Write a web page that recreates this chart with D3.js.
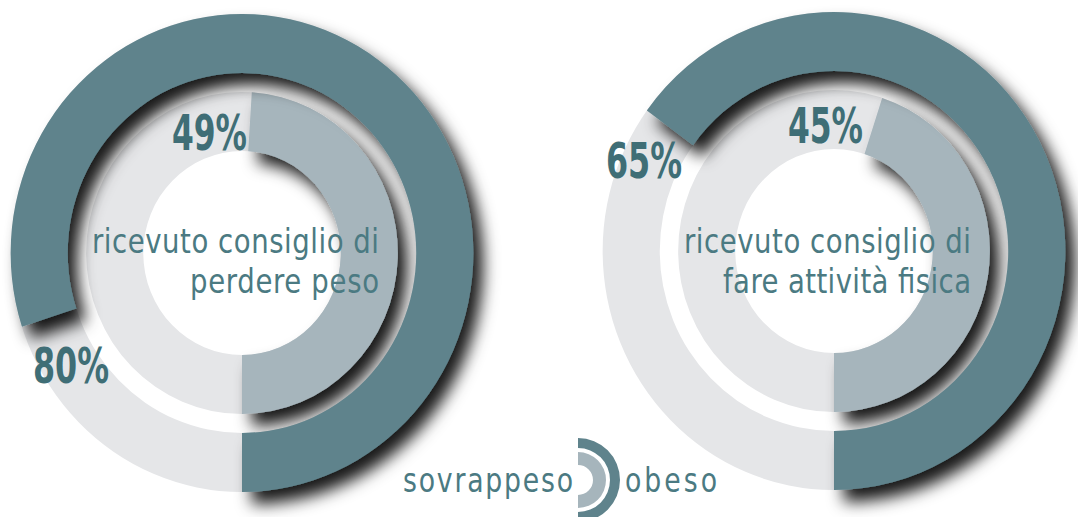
<!DOCTYPE html>
<html>
<head>
<meta charset="utf-8">
<script src="https://cdn.jsdelivr.net/npm/d3@7"></script>
<style>
  body { margin: 0; background: #fff; }
  text { font-family: "Liberation Sans Narrow", "DejaVu Sans Condensed", "Roboto", sans-serif; }
</style>
</head>
<body>
<div id="graph"></div>
<script>
var w = 1078
var h = 517

// data
var captions = [["ricevuto consiglio di", "perdere peso"], ["ricevuto consiglio di", "fare attività fisica"]]
var seriesNames = ["sovrappeso", "obeso"]
var sovrappeso = [49, 45]
var obeso = [80, 65]

// colours
var colObeso = "#5f838c"
var colSovr = "#a6b5bc"
var colTrack = "#e5e6e8"
var colText = "#4b7a82"
var colPct = "#3f6e76"

// layout
var centers = [[242, 253], [834, 251]]
var ringOuter = [180, 239]   // obeso ring
var ringInner = [102, 161]   // sovrappeso ring
var squash = 0.968           // picture is a bit narrower than tall
var narrow = 0.9             // squeeze glyphs of the light text, then space them out
// percentage label spots, relative to each centre
var pctInnerPos = [[5, -103], [29, -108]]
var pctOuterPos = [[-171, 130], [-190, -73]]

// value -> angle, starting at the bottom and running up the right side
var angle = d3.scaleLinear().domain([0, 100]).range([Math.PI, -Math.PI])

var svg = d3.select("#graph").append("svg")
    .attr("width", w)
    .attr("height", h)

// drop shadow used on the coloured arcs
var defs = svg.append("defs")
var f = defs.append("filter").attr("id", "shadow")
    .attr("x", "-30%").attr("y", "-30%").attr("width", "160%").attr("height", "160%")
f.append("feDropShadow")
    .attr("dx", 10).attr("dy", 12)
    .attr("stdDeviation", 8)
    .attr("flood-color", "#000")
    .attr("flood-opacity", 0.9)

var arcOuter = d3.arc().innerRadius(ringOuter[0]).outerRadius(ringOuter[1])
var arcInner = d3.arc().innerRadius(ringInner[0]).outerRadius(ringInner[1])

// light condensed text: narrow glyphs with loose spacing
function lightText(parent, x, y, anchor, size, width, str) {
    return parent.append("text")
        .attr("transform", "translate(" + x + "," + y + ") scale(" + narrow + ",1)")
        .attr("text-anchor", anchor)
        .attr("font-size", size)
        .attr("fill", colText)
        .attr("textLength", width / narrow)
        .attr("lengthAdjust", "spacing")
        .text(str)
}

captions.forEach(function (lines, i) {
    var c = centers[i]
    var g = svg.append("g")
        .attr("transform", "translate(" + c[0] + "," + c[1] + ")")

    var rings = g.append("g").attr("transform", "scale(" + squash + ",1)")

    //grey tracks
    rings.append("path")
        .attr("d", arcOuter({ startAngle: 0, endAngle: 2 * Math.PI }))
        .attr("fill", colTrack)
    rings.append("path")
        .attr("d", arcInner({ startAngle: 0, endAngle: 2 * Math.PI }))
        .attr("fill", colTrack)

    //sovrappeso arc (inner)
    rings.append("path")
        .attr("d", arcInner({ startAngle: angle(0), endAngle: angle(sovrappeso[i]) }))
        .attr("fill", colSovr)
        .attr("filter", "url(#shadow)")

    //obeso arc (outer)
    rings.append("path")
        .attr("d", arcOuter({ startAngle: angle(0), endAngle: angle(obeso[i]) }))
        .attr("fill", colObeso)
        .attr("filter", "url(#shadow)")

    // centre caption, right aligned
    var capW = i === 0 ? [287, 189] : [287, 248]
    lines.forEach(function (line, j) {
        lightText(g, 137, j * 40 + (i === 0 ? 0 : 2), "end", 34, capW[j], line)
    })

    // percentages
    g.append("text")
        .attr("x", pctInnerPos[i][0])
        .attr("y", pctInnerPos[i][1])
        .attr("text-anchor", "end")
        .attr("font-size", 49)
        .attr("font-weight", "bold")
        .attr("fill", colPct)
        .attr("textLength", 75)
        .attr("lengthAdjust", "spacingAndGlyphs")
        .text(sovrappeso[i] + "%")

    g.append("text")
        .attr("x", pctOuterPos[i][0])
        .attr("y", pctOuterPos[i][1])
        .attr("text-anchor", "middle")
        .attr("font-size", 49)
        .attr("font-weight", "bold")
        .attr("fill", colPct)
        .attr("textLength", 76)
        .attr("lengthAdjust", "spacingAndGlyphs")
        .text(obeso[i] + "%")
})

// legend: two half rings between the labels
var leg = svg.append("g").attr("transform", "translate(578,480)")
leg.append("path")
    .attr("d", d3.arc().innerRadius(15).outerRadius(28)({ startAngle: 0, endAngle: Math.PI }))
    .attr("fill", colSovr)
leg.append("path")
    .attr("d", d3.arc().innerRadius(32).outerRadius(42)({ startAngle: 0, endAngle: Math.PI }))
    .attr("fill", colObeso)

lightText(leg, -5, 12, "end", 33, 170, seriesNames[0])
lightText(leg, 47, 12, "start", 33, 92, seriesNames[1])
</script>
</body>
</html>
